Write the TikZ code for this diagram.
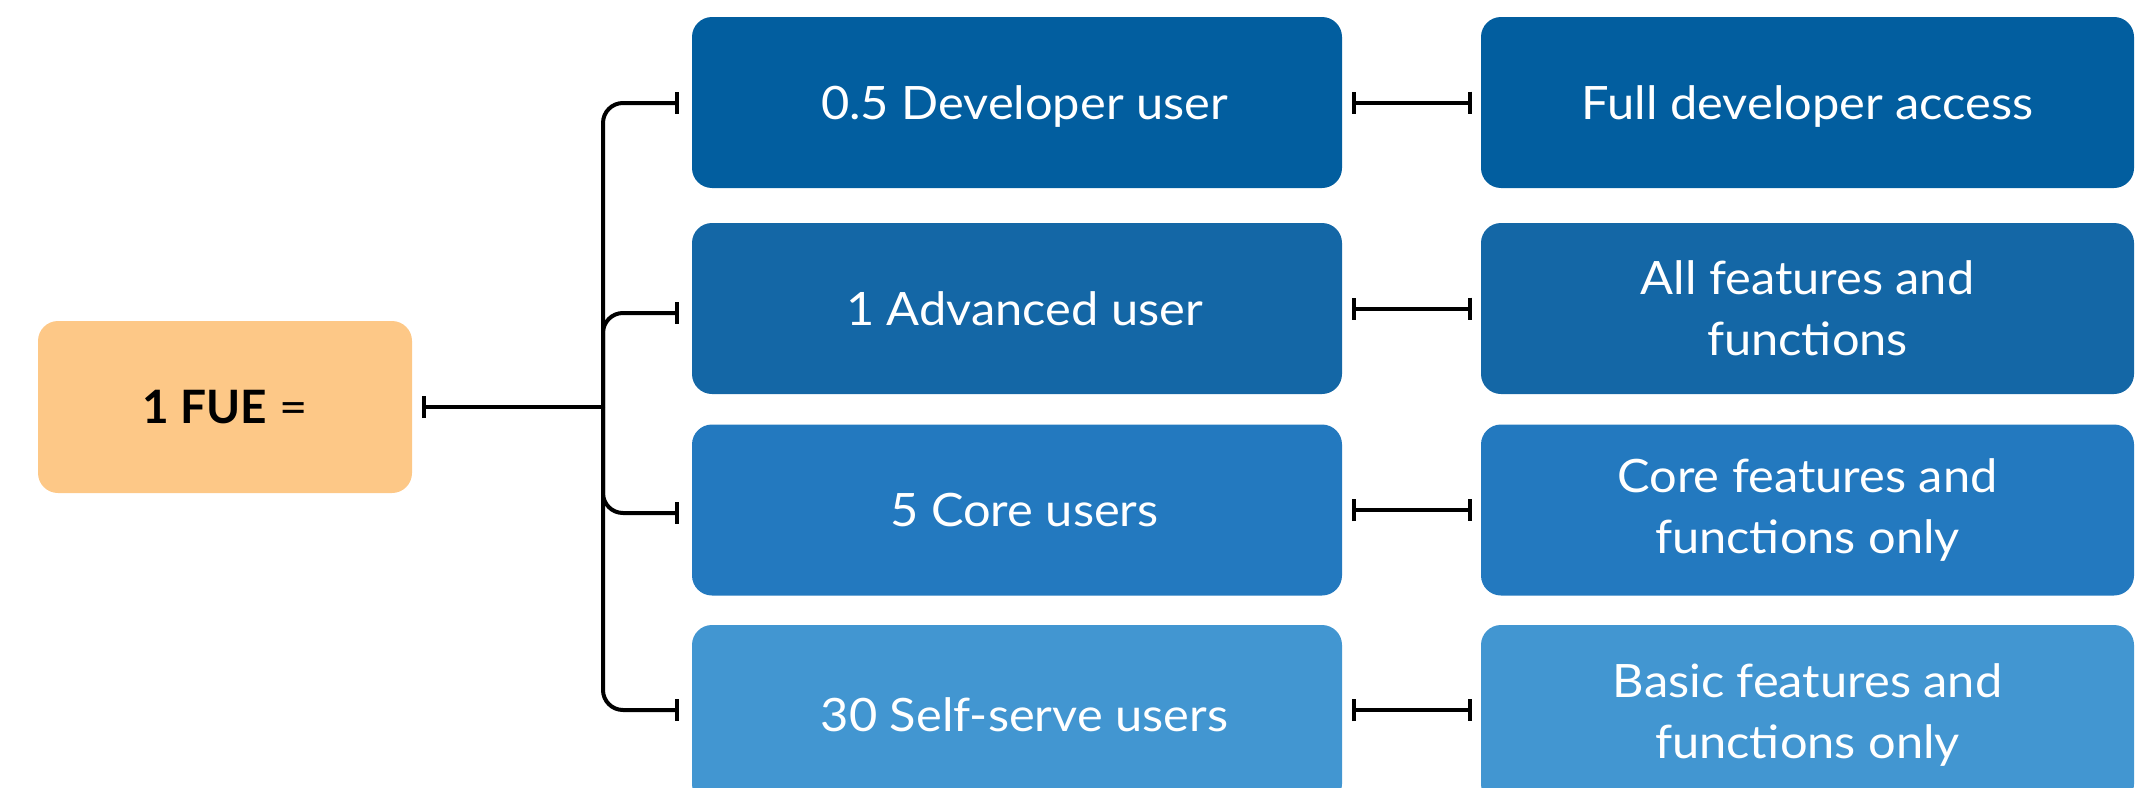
\documentclass[tikz,border=0pt]{standalone}
\usepackage{fontspec}
\setmainfont[FakeStretch=1.06]{Lato}
\newfontfamily\fuefont{Lato}
\usetikzlibrary{arrows.meta}
\definecolor{cA}{HTML}{025E9F}
\definecolor{cB}{HTML}{1467A6}
\definecolor{cC}{HTML}{2379BF}
\definecolor{cD}{HTML}{4296D1}
\definecolor{cF}{HTML}{FDC887}
\tikzset{
  box/.style={rounded corners=20pt, inner sep=0pt, text=white, align=center,
    font=\fontsize{46}{61}\selectfont},
  lbox/.style={box, text depth=0pt, minimum width=650pt, minimum height=171pt,
    execute at begin node={\hspace*{15pt}}},
  rbox/.style={box, minimum width=653pt, minimum height=171pt},
  tall/.style={minimum height=179pt},
  oneline/.style={text depth=0pt},
  fbox/.style={rounded corners=20pt, inner sep=0pt, fill=cF, minimum width=374pt,
    minimum height=172pt, font=\fontsize{46}{61}\selectfont},
  conn/.style={line width=4pt, draw=black},
  endbar/.tip={Bar[width=22pt, line width=4pt]},
}
\begin{document}
\begin{tikzpicture}[x=1pt,y=-1pt]
\useasboundingbox (0,0) rectangle (2151,787);
\node[fbox] (F) at (225,407) {{\fuefont\bfseries 1 FUE} =};
\node[lbox, fill=cA] (L1) at (1017,102.5) {0.5 Developer user};
\node[lbox, fill=cB] (L2) at (1017,308.5) {1 Advanced user};
\node[lbox, fill=cC] (L3) at (1017,510) {5 Core users};
\node[lbox, tall, fill=cD] (L4) at (1017,714.5) {30 Self-serve users};
\node[rbox, oneline, fill=cA] (R1) at (1807.5,102.5) {Full developer access};
\node[rbox, fill=cB] (R2) at (1807.5,308.5) {All features and\\functions};
\node[rbox, fill=cC] (R3) at (1807.5,510) {Core features and\\functions only};
\node[rbox, tall, fill=cD] (R4) at (1807.5,714.5) {Basic features and\\functions only};
\coordinate (J) at (603,407);
\draw[conn, endbar-] ([xshift=10pt]F.east) -- (J);
\foreach \n/\dy/\ey in {1/0.5/0, 2/4.5/0, 3/3/0, 4/-4.5/-4.5}{
  \draw[conn, rounded corners=20pt, -endbar] (J) |- ([xshift=-13pt,yshift=-\dy pt]L\n.west);
  \draw[conn, endbar-endbar] ([xshift=10pt,yshift=-\ey pt]L\n.east) -- ([xshift=-9pt,yshift=-\ey pt]R\n.west);
}
\end{tikzpicture}
\end{document}
